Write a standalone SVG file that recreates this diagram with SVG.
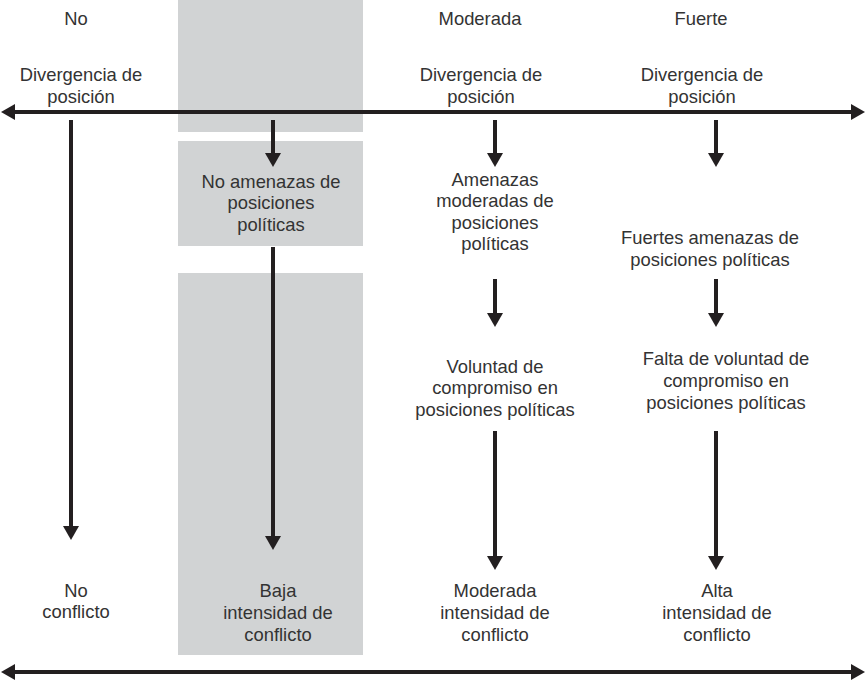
<svg xmlns="http://www.w3.org/2000/svg" width="866" height="680" viewBox="0 0 866 680">
<style>
text{font-family:"Liberation Sans",Arial,sans-serif;font-size:18.4px;fill:#333;text-anchor:middle}
.band{fill:#d1d3d4}
.ln{stroke:#231f20;stroke-width:4;fill:none}
</style>
<defs>
<marker id="ah" markerUnits="userSpaceOnUse" markerWidth="15" markerHeight="16" refX="4" refY="8" orient="auto-start-reverse">
<path d="M0,0 L14,8 L0,16 z" fill="#231f20"/>
</marker>
</defs>
<rect width="866" height="680" fill="#fff"/>
<g id="bands">
<rect class="band" x="178" y="0" width="185" height="132"/>
<rect class="band" x="178" y="141" width="185" height="105"/>
<rect class="band" x="178" y="273" width="185" height="382"/>
</g>
<g id="headers">
<text x="76" y="25">No</text>
<text x="480" y="25">Moderada</text>
<text x="701" y="25">Fuerte</text>
</g>
<g id="div-no"><text x="81" y="81">Divergencia de</text><text x="81" y="103">posición</text></g>
<g id="div-mod"><text x="481" y="81">Divergencia de</text><text x="481" y="103">posición</text></g>
<g id="div-fue"><text x="702" y="81">Divergencia de</text><text x="702" y="103">posición</text></g>
<g id="no-amenazas"><text x="271" y="188">No amenazas de</text><text x="271" y="209">posiciones</text><text x="271" y="231">políticas</text></g>
<g id="amenazas-mod"><text x="495" y="186">Amenazas</text><text x="495" y="207">moderadas de</text><text x="495" y="229">posiciones</text><text x="495" y="250">políticas</text></g>
<g id="amenazas-fue"><text x="710" y="244">Fuertes amenazas de</text><text x="710" y="266">posiciones políticas</text></g>
<g id="voluntad"><text x="495" y="373">Voluntad de</text><text x="495" y="394">compromiso en</text><text x="495" y="416">posiciones políticas</text></g>
<g id="falta-voluntad"><text x="726" y="365">Falta de voluntad de</text><text x="726" y="387">compromiso en</text><text x="726" y="409">posiciones políticas</text></g>
<g id="no-conflicto"><text x="76" y="597">No</text><text x="76" y="618">conflicto</text></g>
<g id="baja"><text x="278" y="597">Baja</text><text x="278" y="619">intensidad de</text><text x="278" y="641">conflicto</text></g>
<g id="moderada"><text x="495" y="597">Moderada</text><text x="495" y="619">intensidad de</text><text x="495" y="641">conflicto</text></g>
<g id="alta"><text x="717" y="597">Alta</text><text x="717" y="619">intensidad de</text><text x="717" y="641">conflicto</text></g>
<g id="connectors">
<line class="ln" x1="11" y1="112" x2="855" y2="112" marker-start="url(#ah)" marker-end="url(#ah)"/>
<line class="ln" x1="11" y1="672" x2="855" y2="672" marker-start="url(#ah)" marker-end="url(#ah)"/>
<line class="ln" x1="71" y1="120" x2="71" y2="530" marker-end="url(#ah)"/>
<line class="ln" x1="273" y1="120" x2="273" y2="157" marker-end="url(#ah)"/>
<line class="ln" x1="273" y1="247" x2="273" y2="540" marker-end="url(#ah)"/>
<line class="ln" x1="495" y1="120" x2="495" y2="157" marker-end="url(#ah)"/>
<line class="ln" x1="495" y1="279" x2="495" y2="317" marker-end="url(#ah)"/>
<line class="ln" x1="495" y1="431" x2="495" y2="560" marker-end="url(#ah)"/>
<line class="ln" x1="716" y1="120" x2="716" y2="157" marker-end="url(#ah)"/>
<line class="ln" x1="716" y1="279" x2="716" y2="317" marker-end="url(#ah)"/>
<line class="ln" x1="716" y1="431" x2="716" y2="560" marker-end="url(#ah)"/>
</g>
</svg>
